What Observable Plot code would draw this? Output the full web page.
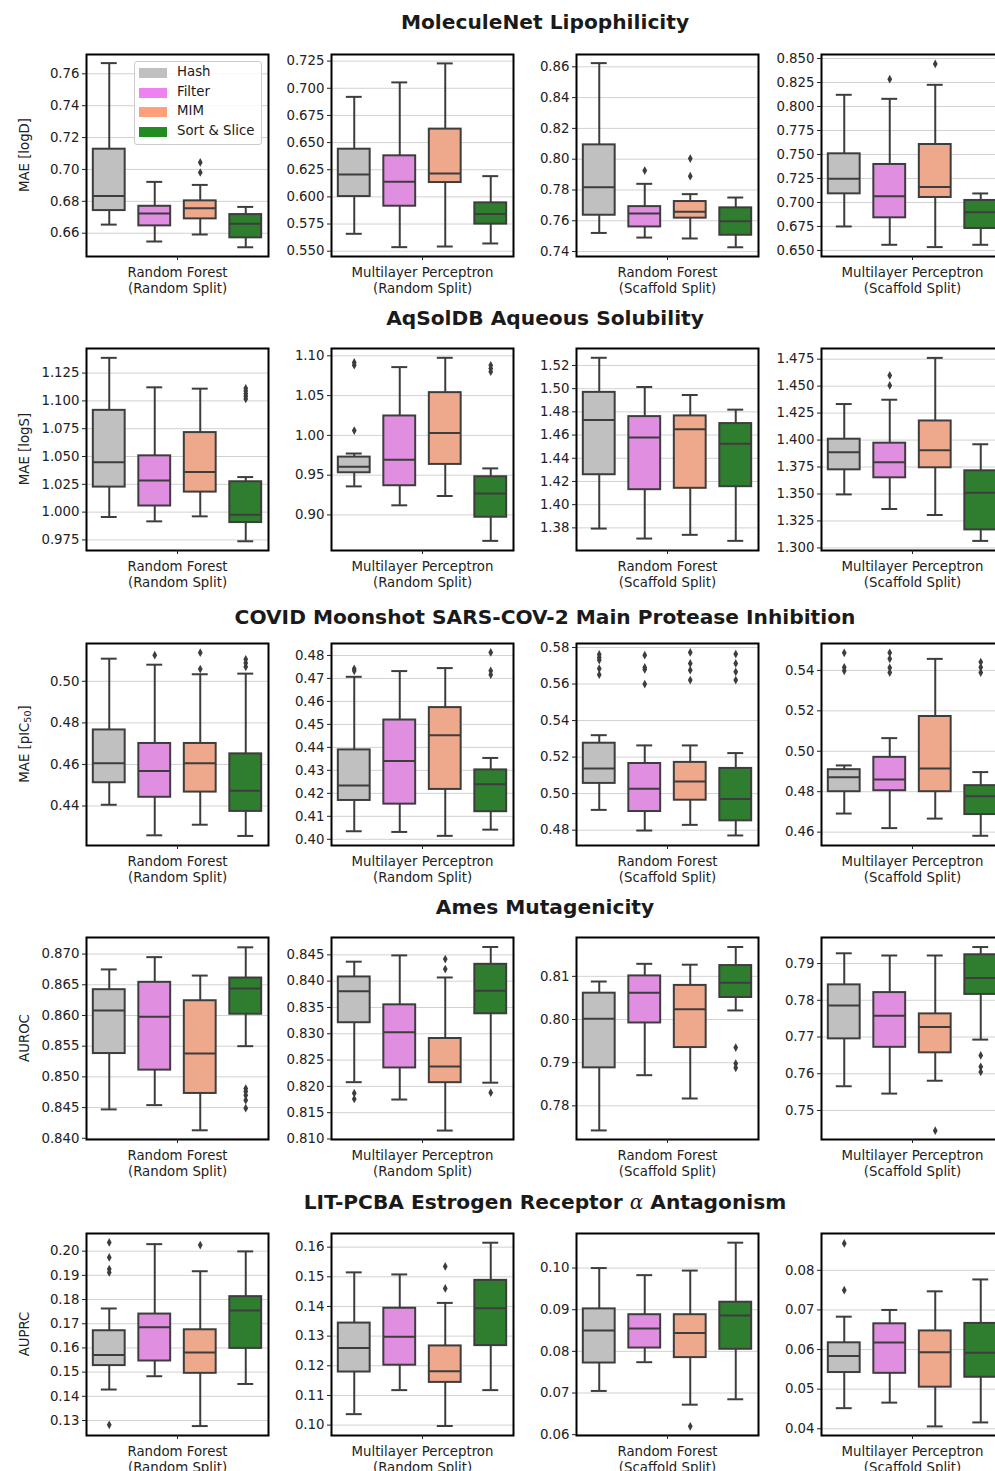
<!DOCTYPE html>
<html>
<head>
<meta charset="utf-8">
<script src="https://cdn.jsdelivr.net/npm/d3@7"></script>
<script src="https://cdn.jsdelivr.net/npm/@observablehq/plot@0.6"></script>
<style>
  html, body { margin: 0; padding: 0; background: #fff; }
  #fig { position: relative; width: 995px; height: 1471px; overflow: hidden; font-family: "DejaVu Sans", sans-serif; color: #1a1a1a; }
  .title { position: absolute; left: 0; width: 1090px; text-align: center; font-weight: bold; font-size: 20.2px; line-height: 24px; white-space: nowrap; }
  .panel { position: absolute; }
  .ylab { position: absolute; width: 200px; height: 16px; line-height: 16px; text-align: center; font-size: 13.3px; color: #222; transform: rotate(-90deg); white-space: nowrap; }
  .ylab sub { font-size: 9.5px; vertical-align: -2px; line-height: 0; }
  .legend { position: absolute; background: rgba(255,255,255,0.85); border: 1px solid #cccccc; border-radius: 3px; font-size: 13.3px; }
  .legend .row { position: absolute; left: 0; height: 20px; white-space: nowrap; }
  .legend .sw { position: absolute; left: 4px; width: 28px; height: 10px; }
  .legend .lb { position: absolute; left: 42px; }
</style>
</head>
<body>
<div id="fig"></div>
<script>
// ---------------- data ----------------
const hues = ["Hash", "Filter", "MIM", "Sort & Slice"];
const boxFill = ["#c0c0c0", "#e08fe0", "#eea88b", "#2f7e2f"];
const legendFill = ["#c0c0c0", "#ee82ee", "#ffa07a", "#228b22"];
const panelLabels = [
  "Random Forest\n(Random Split)",
  "Multilayer Perceptron\n(Random Split)",
  "Random Forest\n(Scaffold Split)",
  "Multilayer Perceptron\n(Scaffold Split)"
];
const rowTitles = [
  "MoleculeNet Lipophilicity",
  "AqSolDB Aqueous Solubility",
  "COVID Moonshot SARS-COV-2 Main Protease Inhibition",
  "Ames Mutagenicity",
  "LIT-PCBA Estrogen Receptor <span style=\"font-family:'DejaVu Serif',serif;font-style:italic;font-weight:normal\">α</span> Antagonism"
];
const yLabels = ["MAE [logD]", "MAE [logS]", "MAE [pIC<sub>50</sub>]", "AUROC", "AUPRC"];

// stats per panel, per hue: [lower whisker, Q1, median, Q3, upper whisker]
const lipoStats = [
  [[0.6654,0.6742,0.6834,0.7127,0.7667],[0.6548,0.6646,0.6723,0.6769,0.6922],[0.6592,0.6690,0.6757,0.6803,0.6903],[0.6512,0.6571,0.6659,0.6717,0.6765]],
  [[0.5660,0.6003,0.6206,0.6439,0.6921],[0.5537,0.5914,0.6139,0.6378,0.7054],[0.5543,0.6132,0.6215,0.6624,0.7229],[0.5571,0.5749,0.5843,0.5945,0.6191]],
  [[0.7521,0.7636,0.7818,0.8093,0.8624],[0.7491,0.7560,0.7647,0.7692,0.7840],[0.7485,0.7617,0.7658,0.7725,0.7773],[0.7428,0.7506,0.7597,0.7684,0.7751]],
  [[0.6750,0.7090,0.7247,0.7507,0.8122],[0.6559,0.6840,0.7066,0.7396,0.8080],[0.6535,0.7052,0.7160,0.7604,0.8226],[0.6559,0.6729,0.6899,0.7021,0.7094]]
];
const lipoOutliers = [
  [[],[],[0.7044,0.6981],[]],
  [[],[],[],[]],
  [[],[0.7926],[0.8004,0.7890],[]],
  [[],[0.8285],[0.8444],[]]
];
const lipoDomains = [[0.6454,0.7721],[0.5451,0.7311],[0.7368,0.8680],[0.6437,0.8542]];
const lipoTicks = [
  ["0.66","0.68","0.70","0.72","0.74","0.76"],
  ["0.550","0.575","0.600","0.625","0.650","0.675","0.700","0.725"],
  ["0.74","0.76","0.78","0.80","0.82","0.84","0.86"],
  ["0.650","0.675","0.700","0.725","0.750","0.775","0.800","0.825","0.850"]
];

const solStats = [
  [[0.9956,1.0225,1.0449,1.0915,1.1387],[0.9917,1.0055,1.0285,1.0506,1.1122],[0.9962,1.0180,1.0360,1.0715,1.1110],[0.9738,0.9906,0.9977,1.0273,1.0315]],
  [[0.9359,0.9530,0.9605,0.9727,0.9772],[0.9121,0.9367,0.9693,1.0244,1.0858],[0.9238,0.9635,1.0031,1.0537,1.0975],[0.8674,0.8971,0.9271,0.9480,0.9585]],
  [[1.3794,1.4258,1.4730,1.4968,1.5266],[1.3708,1.4129,1.4579,1.4759,1.5014],[1.3740,1.4141,1.4650,1.4765,1.4945],[1.3688,1.4155,1.4524,1.4699,1.4819]],
  [[1.3496,1.3724,1.3887,1.4008,1.4334],[1.3361,1.3650,1.3795,1.3971,1.4374],[1.3305,1.3743,1.3906,1.4177,1.4762],[1.3065,1.3167,1.3512,1.3715,1.3961]]
];
const solOutliers = [
  [[],[],[],[1.1113,1.1089,1.1065,1.1041,1.1017]],
  [[1.0917,1.0883,1.0061],[],[],[1.0880,1.0840,1.0800]],
  [[],[],[],[]],
  [[],[1.4599,1.4507],[],[]]
];
const solDomains = [[0.9655,1.1471],[0.8553,1.1092],[1.3605,1.5346],[1.2976,1.4849]];
const solTicks = [
  ["0.975","1.000","1.025","1.050","1.075","1.100","1.125"],
  ["0.90","0.95","1.00","1.05","1.10"],
  ["1.38","1.40","1.42","1.44","1.46","1.48","1.50","1.52"],
  ["1.300","1.325","1.350","1.375","1.400","1.425","1.450","1.475"]
];

const covidStats = [
  [[0.4406,0.4512,0.4606,0.4766,0.5109],[0.4259,0.4442,0.4568,0.4701,0.5080],[0.4310,0.4467,0.4606,0.4701,0.5034],[0.4256,0.4374,0.4474,0.4651,0.5037]],
  [[0.4035,0.4169,0.4234,0.4389,0.4707],[0.4032,0.4153,0.4341,0.4519,0.4732],[0.4015,0.4217,0.4453,0.4573,0.4745],[0.4042,0.4120,0.4239,0.4302,0.4354]],
  [[0.4911,0.5056,0.5138,0.5276,0.5320],[0.4798,0.4902,0.5027,0.5165,0.5264],[0.4829,0.4964,0.5067,0.5171,0.5264],[0.4771,0.4851,0.4971,0.5138,0.5222]],
  [[0.4692,0.4800,0.4871,0.4909,0.4930],[0.4620,0.4805,0.4860,0.4970,0.5065],[0.4667,0.4800,0.4915,0.5172,0.5457],[0.4582,0.4687,0.4777,0.4830,0.4897]]
];
const covidOutliers = [
  [[],[0.5126],[0.5138,0.5059],[0.5106,0.5088,0.5070]],
  [[0.4742,0.4733],[],[],[0.4813,0.4733,0.4716]],
  [[0.5762,0.5745,0.5731,0.5684,0.5651],[0.5758,0.5691,0.5680,0.5600],[0.5773,0.5713,0.5676,0.5622],[0.5764,0.5713,0.5667,0.5622]],
  [[0.5487,0.5415,0.5398],[0.5487,0.5457,0.5413,0.5389],[],[0.5441,0.5415,0.5389]]
];
const covidDomains = [[0.4210,0.5182],[0.3973,0.4852],[0.4716,0.5822],[0.4534,0.5533]];
const covidTicks = [
  ["0.44","0.46","0.48","0.50"],
  ["0.40","0.41","0.42","0.43","0.44","0.45","0.46","0.47","0.48"],
  ["0.48","0.50","0.52","0.54","0.56","0.58"],
  ["0.46","0.48","0.50","0.52","0.54"]
];

const amesStats = [
  [[0.8447,0.8538,0.8608,0.8642,0.8675],[0.8454,0.8511,0.8598,0.8654,0.8695],[0.8413,0.8473,0.8538,0.8624,0.8665],[0.8550,0.8602,0.8644,0.8661,0.8711]],
  [[0.8208,0.8321,0.8381,0.8408,0.8437],[0.8175,0.8235,0.8303,0.8355,0.8449],[0.8116,0.8207,0.8238,0.8291,0.8407],[0.8207,0.8338,0.8382,0.8432,0.8465]],
  [[0.7743,0.7888,0.8002,0.8061,0.8088],[0.7871,0.7992,0.8062,0.8101,0.8129],[0.7817,0.7935,0.8024,0.8079,0.8127],[0.8021,0.8051,0.8085,0.8125,0.8168]],
  [[0.7566,0.7695,0.7786,0.7842,0.7928],[0.7546,0.7672,0.7758,0.7821,0.7922],[0.7581,0.7657,0.7727,0.7763,0.7922],[0.7693,0.7816,0.7861,0.7924,0.7945]]
];
const amesOutliers = [
  [[],[],[],[0.8481,0.8476,0.8470,0.8462,0.8449]],
  [[0.8187,0.8176],[],[0.8442,0.8423],[0.8188]],
  [[],[],[],[0.7935,0.7898,0.7888]],
  [[],[],[0.7445],[0.7650,0.7619,0.7605]]
];
const amesDomains = [[0.8398,0.8727],[0.8099,0.8483],[0.7722,0.8190],[0.7421,0.7971]];
const amesTicks = [
  ["0.840","0.845","0.850","0.855","0.860","0.865","0.870"],
  ["0.810","0.815","0.820","0.825","0.830","0.835","0.840","0.845"],
  ["0.78","0.79","0.80","0.81"],
  ["0.75","0.76","0.77","0.78","0.79"]
];

const litStats = [
  [[0.1428,0.1527,0.1571,0.1671,0.1763],[0.1483,0.1546,0.1685,0.1740,0.2029],[0.1277,0.1495,0.1581,0.1675,0.1917],[0.1451,0.1598,0.1755,0.1812,0.1999]],
  [[0.1037,0.1179,0.1260,0.1344,0.1515],[0.1118,0.1202,0.1298,0.1394,0.1508],[0.0997,0.1144,0.1182,0.1267,0.1412],[0.1118,0.1268,0.1394,0.1488,0.1615]],
  [[0.0705,0.0772,0.0850,0.0902,0.1000],[0.0774,0.0808,0.0855,0.0888,0.0983],[0.0672,0.0785,0.0844,0.0888,0.0994],[0.0685,0.0805,0.0886,0.0918,0.1061]],
  [[0.0452,0.0542,0.0584,0.0617,0.0683],[0.0466,0.0540,0.0618,0.0665,0.0700],[0.0406,0.0505,0.0593,0.0647,0.0747],[0.0416,0.0530,0.0592,0.0666,0.0777]]
];
const litOutliers = [
  [[0.2036,0.1974,0.1926,0.1912,0.1282],[],[0.2025],[]],
  [[],[],[0.1535,0.1461],[]],
  [[],[],[0.0620],[]],
  [[0.0868,0.0750],[],[],[]]
];
const litDomains = [[0.1238,0.2073],[0.0965,0.1646],[0.0598,0.1083],[0.0383,0.0893]];
const litTicks = [
  ["0.13","0.14","0.15","0.16","0.17","0.18","0.19","0.20"],
  ["0.10","0.11","0.12","0.13","0.14","0.15","0.16"],
  ["0.06","0.07","0.08","0.09","0.10"],
  ["0.04","0.05","0.06","0.07","0.08"]
];

// ---------------- layout ----------------
const rowsData = [
  [lipoStats, lipoOutliers, lipoDomains, lipoTicks],
  [solStats, solOutliers, solDomains, solTicks],
  [covidStats, covidOutliers, covidDomains, covidTicks],
  [amesStats, amesOutliers, amesDomains, amesTicks],
  [litStats, litOutliers, litDomains, litTicks]
];
const frameLefts = [86, 331, 576, 821];
const frameTops = [54, 348, 643, 937, 1233];
const titleCenters = [22, 318, 617, 907, 1202];
const FW = 182, FH = 202;
const ML = 70, MR = 2, MT = 6, MB = 42;
const edge = "#3d3d3d";
const FS = 13.3;

const thinDiamond = {
  draw(context, size) {
    const r = Math.sqrt(size / Math.PI);
    const w = r * 0.8, h = r * 1.45;
    context.moveTo(0, -h); context.lineTo(w, 0); context.lineTo(0, h); context.lineTo(-w, 0); context.closePath();
  }
};

const fig = document.getElementById("fig");

rowsData.forEach(([stats, outs, domains, ticks], r) => {
  const t = document.createElement("div");
  t.className = "title";
  t.style.top = (titleCenters[r] - 12) + "px";
  t.innerHTML = rowTitles[r];
  fig.appendChild(t);

  const yl = document.createElement("div");
  yl.className = "ylab";
  yl.style.left = (25 - 100) + "px";
  yl.style.top = (frameTops[r] + FH / 2 - 8) + "px";
  yl.innerHTML = yLabels[r];
  fig.appendChild(yl);

  for (let c = 0; c < 4; c++) {
    const boxes = stats[c].map((s, i) => ({i, hue: hues[i], low: s[0], q1: s[1], med: s[2], q3: s[3], high: s[4]}));
    const pts = outs[c].flatMap((arr, i) => arr.map(v => ({i, v})));
    const tickVals = ticks[c].map(Number);
    const tickMap = new Map(tickVals.map((v, k) => [v, ticks[c][k]]));
    const marks = [
      Plot.ruleY(tickVals, {stroke: "#d2d2d2", strokeWidth: 1}),
      Plot.ruleX(boxes, {x: "i", y1: "low", y2: "q1", stroke: edge, strokeWidth: 2}),
      Plot.ruleX(boxes, {x: "i", y1: "q3", y2: "high", stroke: edge, strokeWidth: 2}),
      Plot.ruleY(boxes, {y: "low", x1: d => d.i - 0.175, x2: d => d.i + 0.175, stroke: edge, strokeWidth: 2}),
      Plot.ruleY(boxes, {y: "high", x1: d => d.i - 0.175, x2: d => d.i + 0.175, stroke: edge, strokeWidth: 2}),
      Plot.rect(boxes, {x1: d => d.i - 0.35, x2: d => d.i + 0.35, y1: "q1", y2: "q3", fill: d => boxFill[d.i], stroke: edge, strokeWidth: 2}),
      Plot.ruleY(boxes, {y: "med", x1: d => d.i - 0.35, x2: d => d.i + 0.35, stroke: edge, strokeWidth: 2}),
      Plot.dot(pts, {x: "i", y: "v", r: 3, symbol: thinDiamond, fill: edge, stroke: "none"}),
      Plot.frame({stroke: "#000", strokeWidth: 2}),
      Plot.axisY(tickVals, {tickFormat: d => tickMap.get(d), tickSize: 4, tickPadding: 3, fontSize: FS, label: null, stroke: "#222", fill: "#222"}),
      Plot.axisX([1.5], {tickFormat: () => "", tickSize: 4, label: null, stroke: "#222"}),
      Plot.text([panelLabels[c]], {frameAnchor: "bottom", lineAnchor: "top", dy: 10, lineHeight: 1.15, fontSize: FS, fill: "#222"})
    ];
    const svg = Plot.plot({
      width: ML + FW + MR,
      height: MT + FH + MB,
      marginLeft: ML, marginRight: MR, marginTop: MT, marginBottom: MB,
      x: {type: "linear", domain: [-0.5, 3.5], axis: null},
      y: {domain: domains[c], axis: null},
      style: {fontFamily: "DejaVu Sans", fontSize: FS + "px", background: "transparent", overflow: "visible"},
      marks
    });
    svg.classList.add("panel");
    svg.style.position = "absolute";
    svg.style.left = (frameLefts[c] - ML) + "px";
    svg.style.top = (frameTops[r] - MT) + "px";
    fig.appendChild(svg);
  }
});

// legend inside first panel
const lg = document.createElement("div");
lg.className = "legend";
lg.style.left = "134px"; lg.style.top = "61px"; lg.style.width = "126px"; lg.style.height = "82px";
hues.forEach((h, i) => {
  const row = document.createElement("div");
  row.className = "row";
  row.style.top = (1 + i * 19.7) + "px";
  row.innerHTML = `<div class="sw" style="top:5px;background:${legendFill[i]}"></div><div class="lb" style="top:1px">${h.replace("&", "&amp;")}</div>`;
  lg.appendChild(row);
});
fig.appendChild(lg);
</script>
</body>
</html>
